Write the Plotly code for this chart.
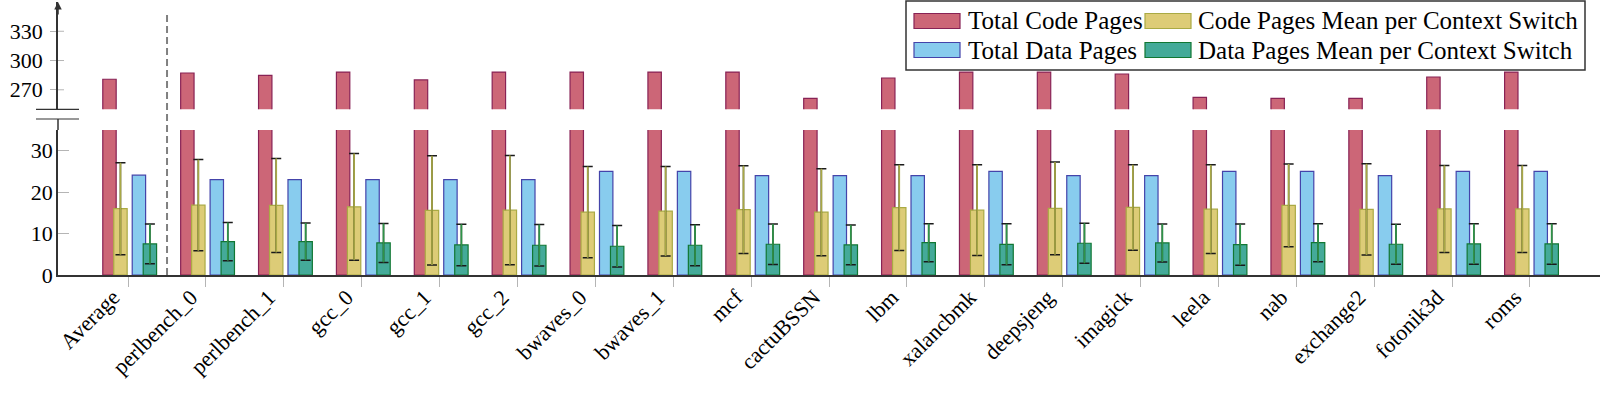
import plotly.graph_objects as go

# values
benchmarks = ["Average", "perlbench_0", "perlbench_1", "gcc_0", "gcc_1", "gcc_2",
              "bwaves_0", "bwaves_1", "mcf", "cactuBSSN", "lbm", "xalancbmk",
              "deepsjeng", "imagick", "leela", "nab", "exchange2", "fotonik3d", "roms"]
total_code_pages = [280.8, 287.2, 284.8, 288.2, 280.1, 288.2, 288.2, 288.2, 288.2, 261.2,
                    282.1, 288.2, 288.2, 286.2, 262.2, 261.2, 261.2, 283.1, 288.2]
total_data_pages = [24.1, 23, 23, 23, 23, 23, 25, 25, 24, 24,
                    24, 25, 24, 24, 25, 25, 24, 25, 25]
code_mean = [16.0, 16.85, 16.8, 16.45, 15.6, 15.65, 15.16, 15.4, 15.8, 15.16,
             16.25, 15.65, 16.1, 16.3, 15.9, 16.8, 15.85, 15.95, 15.95]
code_std = [11.1, 11.0, 11.35, 12.9, 13.2, 13.2, 11.0, 10.8, 10.6, 10.5,
            10.35, 10.95, 11.2, 10.3, 10.7, 10.0, 11.0, 10.5, 10.5]
data_mean = [7.5, 8.06, 8.06, 7.74, 7.26, 7.18, 6.94, 7.18, 7.42, 7.26,
             7.8, 7.4, 7.66, 7.74, 7.34, 7.8, 7.42, 7.5, 7.5]
data_std = [4.8, 4.6, 4.5, 4.7, 5.0, 5.0, 5.0, 4.96, 4.9, 4.8,
            4.6, 4.95, 4.84, 4.6, 4.96, 4.6, 4.84, 4.88, 4.88]

# page geometry (pixels)
W, H = 1600, 394
ML, MR, MT, MB = 58, 0, 2, 119
PW = W - ML - MR
PH = H - MT - MB


def px_x(px):
    return (px - ML) / PW


def px_y(py):
    return (H - MB - py) / PH


LOW_TOP = px_y(130)
BREAK_LOW = px_y(119)
BREAK_HIGH = px_y(109.3)

FONT = "Liberation Serif"
AXIS = "#333333"
TICK = "#b5b5b5"
BAR_W = 0.172

RED, RED_EDGE = "#CC6677", "#882255"
YEL, YEL_EDGE = "#DDCC77", "#AAAA44"
BLU, BLU_EDGE = "#88CCEE", "#4444AA"
GRN, GRN_EDGE = "#44AA99", "#117733"

fig = go.Figure()


def add_bars(values, fill, edge, offset, yaxis="y"):
    fig.add_trace(go.Bar(
        x=benchmarks, y=values, offset=offset, width=BAR_W, yaxis=yaxis,
        marker=dict(color=fill, line=dict(color=edge, width=1.2)),
        showlegend=False, hoverinfo="y"))


def add_errors(values, errs, offset, stem):
    # black caps first, then the coloured stem on top of it
    for color, w, th in [("#1a1a1a", 5, 1.5), (stem, 0, 1.7)]:
        fig.add_trace(go.Bar(
            x=benchmarks, y=values, offset=offset, width=BAR_W,
            marker=dict(color="rgba(0,0,0,0)", line=dict(width=0)),
            error_y=dict(type="data", array=errs, color=color, thickness=th, width=w),
            showlegend=False, hoverinfo="skip"))


add_bars(total_code_pages, RED, RED_EDGE, -0.325)
add_bars(total_code_pages, RED, RED_EDGE, -0.325, yaxis="y2")
add_bars(code_mean, YEL, YEL_EDGE, -0.184)
add_errors(code_mean, code_std, -0.184, "#A8A845")
add_bars(total_data_pages, BLU, BLU_EDGE, 0.053)
add_bars(data_mean, GRN, GRN_EDGE, 0.194)
add_errors(data_mean, data_std, 0.194, "#2E9448")

yfont = dict(family=FONT, size=22, color="black")
yaxis_style = dict(showline=True, linecolor=AXIS, linewidth=1.5, tickcolor=TICK,
                   tickwidth=1, showgrid=False, zeroline=False, tickfont=yfont,
                   automargin=False)

fig.update_layout(
    width=W, height=H,
    margin=dict(l=ML, r=MR, t=MT, b=MB, autoexpand=False),
    paper_bgcolor="white", plot_bgcolor="white",
    barmode="overlay",
    showlegend=False,
    xaxis=dict(type="category", range=[-0.9, 18.9], showline=True, linecolor=AXIS,
               linewidth=1.5, ticks="outside", ticklen=10, tickcolor=TICK,
               tickangle=-45, tickfont=dict(family=FONT, size=22, color="black"),
               ticklabelshift=-15, ticklabelstandoff=-11, automargin=False,
               showgrid=False, anchor="y"),
    yaxis=dict(domain=[0, LOW_TOP], range=[0, 35], tickvals=[0, 10, 20, 30],
               ticks="inside", ticklen=11, ticklabelstandoff=-1, **yaxis_style),
    yaxis2=dict(domain=[BREAK_HIGH, 1], range=[250, 360], tickvals=[270, 300, 330],
                ticks="outside", ticklen=6, ticklabelstandoff=3, anchor="x", **yaxis_style),
)

shapes = [
    # axis between lower panel and break
    dict(type="line", xref="paper", yref="paper", x0=0, x1=0, y0=LOW_TOP, y1=BREAK_LOW,
         line=dict(color=AXIS, width=1.5)),
    # break marks
    dict(type="line", xref="paper", yref="paper", x0=px_x(36), x1=px_x(79),
         y0=BREAK_LOW, y1=BREAK_LOW, line=dict(color=AXIS, width=1.2)),
    dict(type="line", xref="paper", yref="paper", x0=px_x(36), x1=px_x(79),
         y0=BREAK_HIGH, y1=BREAK_HIGH, line=dict(color=AXIS, width=1.2)),
    # inner half of the upper tick marks
    *[dict(type="line", xref="paper", yref="y2", x0=0, x1=px_x(ML + 6), y0=v, y1=v,
           line=dict(color=TICK, width=1)) for v in [270, 300, 330]],
    # dashed divider after Average
    dict(type="line", xref="x", yref="paper", x0=0.5, x1=0.5, y0=0, y1=px_y(13),
         line=dict(color="#808080", width=2, dash="7px,4px")),
    # legend frame
    dict(type="rect", xref="paper", yref="paper", x0=px_x(906), x1=px_x(1585),
         y0=px_y(70), y1=px_y(1), fillcolor="white", layer="above",
         line=dict(color="#333333", width=1.5)),
]

legend_items = [
    ("Total Code Pages", RED, RED_EDGE, 914, 966, 13.5),
    ("Code Pages Mean per Context Switch", YEL, YEL_EDGE, 1145, 1196, 13.5),
    ("Total Data Pages", BLU, BLU_EDGE, 914, 966, 42.5),
    ("Data Pages Mean per Context Switch", GRN, GRN_EDGE, 1145, 1196, 42.5),
]
annotations = []
for label, fill, edge, sx, tx, sy in legend_items:
    shapes.append(dict(type="rect", xref="paper", yref="paper", x0=px_x(sx), x1=px_x(sx + 46),
                       y0=px_y(sy + 15), y1=px_y(sy), fillcolor=fill, layer="above",
                       line=dict(color=edge, width=1.2)))
    annotations.append(dict(xref="paper", yref="paper", x=px_x(tx), y=px_y(sy + 7.5),
                            text=label, showarrow=False, xanchor="left", yanchor="middle",
                            font=dict(family=FONT, size=25, color="black")))

# arrow head at the top of the y axis
annotations.append(dict(xref="paper", yref="paper", x=0, y=1, ax=0, ay=14, text="",
                        showarrow=True, arrowhead=2, arrowsize=1, arrowwidth=1.5,
                        arrowcolor=AXIS))

fig.update_layout(shapes=shapes, annotations=annotations)

# the page body has a default 8px margin; remove it so the chart sits at 0,0
fig.write_html("out.html", config={"displayModeBar": False},
               post_script="document.body.style.margin='0px';")
